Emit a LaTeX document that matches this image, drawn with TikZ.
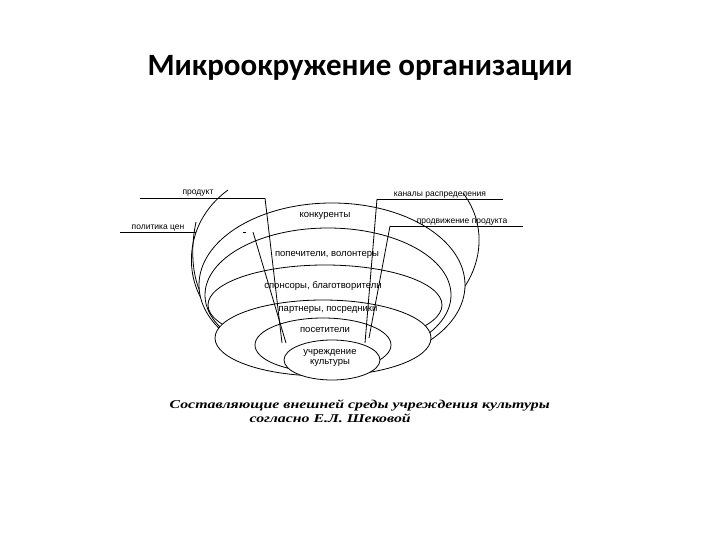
\documentclass[tikz,border=0pt]{standalone}
\usepackage{fontspec}
\setmainfont{Liberation Serif}
\newfontfamily\titlefont{Carlito}
\newfontfamily\labfont{Liberation Sans}
\usetikzlibrary{shapes.geometric}
\begin{document}
\begin{tikzpicture}[x=1pt,y=-1pt,
  ring/.style={ellipse,draw,fill=white,line width=0.8pt,inner sep=0pt},
  lab/.style={font=\labfont\fontsize{9.5}{10.5}\selectfont,inner sep=1pt},
  slab/.style={font=\labfont\fontsize{8.5}{9}\selectfont,inner sep=1pt},
  ln/.style={line width=0.8pt}]
\useasboundingbox (0,0) rectangle (720,540);
\node[font=\titlefont\bfseries\fontsize{31}{34}\selectfont] (title) at (360,68) {Микроокружение организации};
% outer loops
\coordinate (pl) at (228,190);
\coordinate (cl) at (196,222);
\coordinate (kr) at (463,193);
\draw[ln] (pl) .. controls (180,225) and (185,285) .. (210,310);
\draw[ln] (cl) .. controls (188,260) and (195,295) .. (214,312);
\draw[ln] (kr) .. controls (495,235) and (475,290) .. (440,310);
% rings
\node[ring,minimum width=266,minimum height=164] (e1) at (332,285) {};
\node[ring,minimum width=246,minimum height=134] (e2) at (328,295) {};
\node[ring,minimum width=234,minimum height=80] (e3) at (325,305) {};
\node[ring,minimum width=216,minimum height=76] (e4) at (323,338) {};
\node[ring,minimum width=136,minimum height=54] (e5) at (323,345) {};
\node[ring,minimum width=96,minimum height=40] (e6) at (332,360) {};
% labels
\node[slab,anchor=south] (prod) at (198,197) {продукт};
\node[slab,anchor=south] (pol) at (158,232) {политика цен};
\node[slab,anchor=south] (kan) at (440,199) {каналы распределения};
\node[slab,anchor=south] (prom) at (462,226) {продвижение продукта};
\coordinate (u1a) at (140,198); \coordinate (u1b) at (265,198);
\coordinate (u2a) at (120,232); \coordinate (u2b) at (196,232);
\coordinate (u3a) at (377,199); \coordinate (u3b) at (503,199);
\coordinate (u4a) at (390,226); \coordinate (u4b) at (523,226);
\draw[ln] (u1a) -- (u1b); \draw[ln] (u2a) -- (u2b);
\draw[ln] (u3a) -- (u3b); \draw[ln] (u4a) -- (u4b);
\coordinate (d1) at (282,343);
\coordinate (d2a) at (253,232); \coordinate (d2) at (286,343);
\coordinate (d3) at (365,343);
\coordinate (d4) at (369,338);
\draw[ln] (u1b) -- (d1);
\draw[ln] (d2a) -- (d2);
\draw[ln] (243,232) -- (246,232);
\draw[ln] (u3a) -- (d3);
\draw[ln] (u4a) -- (d4);
% ring texts
\node[lab] (t1) at (325,216) {конкуренты};
\node[lab] (t2) at (327,255) {попечители, волонтеры};
\node[lab] (t3) at (323,286) {спонсоры, благотворители};
\node[lab] (t4) at (328,310) {партнеры, посредники};
\node[lab] (t5) at (325,330) {посетители};
\node[lab,align=center] (t6) at (330,358) {учреждение\\культуры};
% caption
\node[font=\bfseries\itshape\fontsize{12}{13}\selectfont,anchor=west,xscale=1.32] (cap1) at (165,405) {Составляющие внешней среды учреждения культуры};
\node[font=\bfseries\itshape\fontsize{12}{13}\selectfont,anchor=west,xscale=1.32] (cap2) at (245,418) {согласно Е.Л. Шековой};
\end{tikzpicture}
\end{document}
